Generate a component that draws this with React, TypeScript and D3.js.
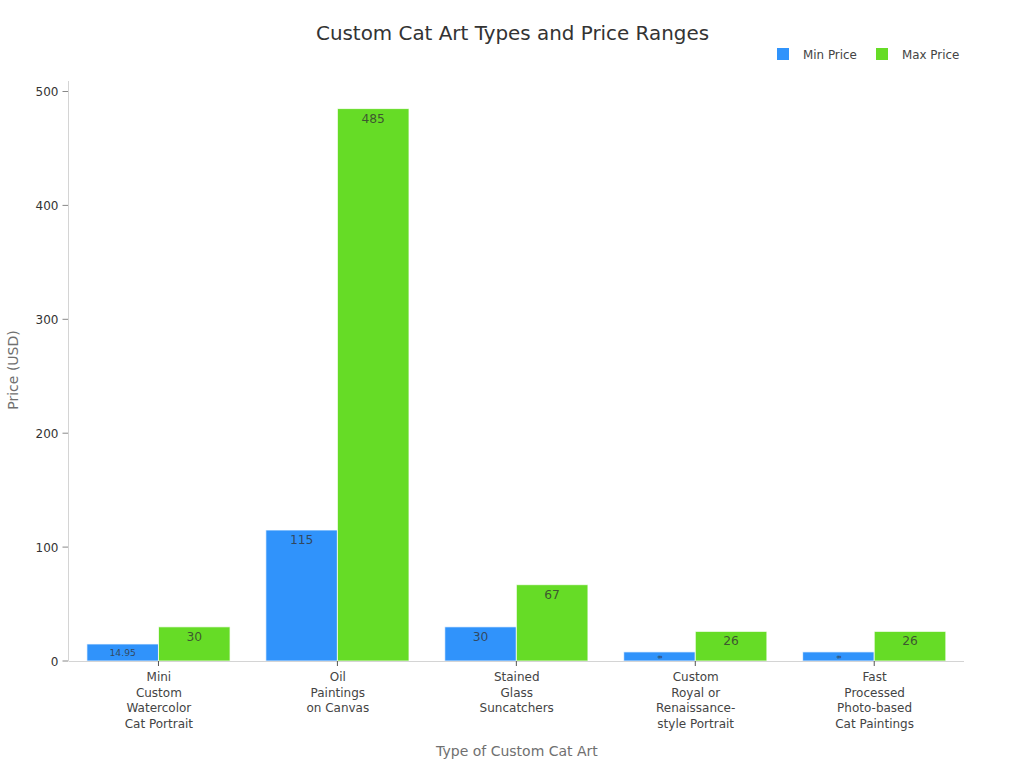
import React from "react";
import * as d3 from "d3";

const categories: string[][] = [
  ["Mini", "Custom", "Watercolor", "Cat Portrait"],
  ["Oil", "Paintings", "on Canvas"],
  ["Stained", "Glass", "Suncatchers"],
  ["Custom", "Royal or", "Renaissance-", "style Portrait"],
  ["Fast", "Processed", "Photo-based", "Cat Paintings"],
];
const minPrice = [14.95, 115, 30, 8, 8];
const maxPrice = [30, 485, 67, 26, 26];
const minLabelSize = [9.2, 12.3, 12.3, 5.5, 5.5];
const yTicks = [0, 100, 200, 300, 400, 500];
const seriesNames = ["Min Price", "Max Price"];
const colors = ["#3093fb", "#66dc26"];
const FONT = "'DejaVu Sans', sans-serif";

export default function App() {
  const x0 = 68.5, x1 = 964, yBase = 661, yTop = 81;
  const y = d3.scaleLinear().domain([0, 500]).range([yBase, 91.5]);
  const x = d3.scaleBand<number>().domain(d3.range(categories.length)).range([x0 + 0.5, x1 - 0.3]).paddingInner(0.2).paddingOuter(0.1);
  const bw = x.bandwidth() / 2;
  const cx = (i: number) => x(i)! + bw;
  const series = [minPrice, maxPrice];
  return (
    <svg width={1024} height={768} style={{ position: "absolute", left: 0, top: 0, fontFamily: FONT }}>
      <rect width={1024} height={768} fill="#fff" />
      <text x={512.5} y={40} textAnchor="middle" fontSize={19.9} fill="#333">Custom Cat Art Types and Price Ranges</text>
      {seriesNames.map((s, i) => {
        const lx = [777, 876][i];
        return (
          <g key={s}>
            <rect x={lx} y={48} width={12} height={12} fill={colors[i]} />
            <text x={lx + 26} y={59} fontSize={11.9} fill="#444">{s}</text>
          </g>
        );
      })}
      {series.map((vals, s) =>
        vals.map((v, i) => {
          const bx = x(i)! + s * bw;
          return (
            <rect key={`${s}-${i}`} x={bx} y={y(v)} width={bw} height={yBase - y(v)} fill={colors[s]} stroke="#fff" strokeOpacity={0.75} strokeWidth={1} />
          );
        })
      )}
      {series.map((vals, s) =>
        vals.map((v, i) => {
          const px = x(i)! + s * bw + bw / 2;
          const size = s === 0 ? minLabelSize[i] : 12.3;
          if (size < 6) {
            const py = y(v) + 5;
            return (
              <text key={`l${s}-${i}`} transform={`translate(${px},${py}) rotate(90)`} textAnchor="middle" dominantBaseline="middle" fontSize={size} fill="#333">{v}</text>
            );
          }
          const py = size < 10 ? y(v) + 12.5 : y(v) + 14;
          return (
            <text key={`l${s}-${i}`} x={px} y={py} textAnchor="middle" fontSize={size} fill="#333" fillOpacity={0.8}>{v}</text>
          );
        })
      )}
      <line x1={x0} x2={x0} y1={yTop} y2={yBase} stroke="#d4d4d4" />
      <line x1={x0} x2={x1} y1={yBase + 0.5} y2={yBase + 0.5} stroke="#d4d4d4" />
      {yTicks.map((t) => (
        <g key={t}>
          <line x1={x0 - 6} x2={x0 - 0.5} y1={y(t)} y2={y(t)} stroke="#888" />
          <text x={x0 - 10} y={y(t) + 4.5} textAnchor="end" fontSize={12} fill="#333">{t}</text>
        </g>
      ))}
      {categories.map((lines, i) => (
        <g key={i}>
          <line x1={cx(i)} x2={cx(i)} y1={yBase} y2={yBase + 5} stroke="#555" />
          <text textAnchor="middle" fontSize={12} fill="#444">
            {lines.map((l, k) => (
              <tspan key={k} x={cx(i) + 0.4} y={681 + k * 15.6}>{l}</tspan>
            ))}
          </text>
        </g>
      ))}
      <text x={517} y={756} textAnchor="middle" fontSize={14} fill="#707070">Type of Custom Cat Art</text>
      <text transform="translate(17.5,370) rotate(-90)" textAnchor="middle" fontSize={14} fill="#707070">Price (USD)</text>
    </svg>
  );
}
